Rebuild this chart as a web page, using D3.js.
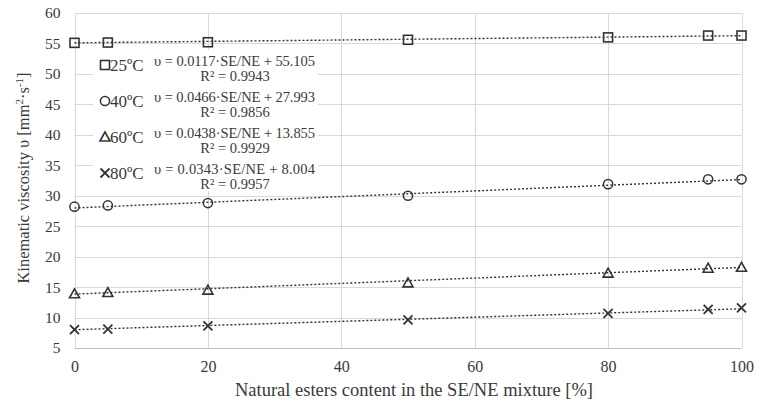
<!DOCTYPE html>
<html><head><meta charset="utf-8">
<script src="https://cdn.jsdelivr.net/npm/d3@7"></script>
<style>
html,body{margin:0;padding:0;background:#fff;}
svg text{font-family:"Liberation Serif","Times New Roman",Tinos,"DejaVu Serif",serif !important;}
</style></head>
<body><svg id="c" width="768" height="405"></svg>
<script>
const xValues = [0, 5, 20, 50, 80, 95, 100];
const v25 = [55.1, 55.15, 55.2, 55.6, 56.0, 56.3, 56.3];
const v40 = [28.2, 28.4, 28.8, 30.0, 31.9, 32.7, 32.7];
const v60 = [13.9, 14.1, 14.5, 15.7, 17.3, 18.1, 18.25];
const v80 = [8.0, 8.1, 8.65, 9.6, 10.7, 11.35, 11.6];
const seriesNames = ["25ºC", "40ºC", "60ºC", "80ºC"];
const slopes = [0.0117, 0.0466, 0.0438, 0.0343];
const intercepts = [55.105, 27.993, 13.855, 8.004];
const equations = ["υ = 0.0117·SE/NE + 55.105", "υ = 0.0466·SE/NE + 27.993", "υ = 0.0438·SE/NE + 13.855", "υ = 0.0343·SE/NE + 8.004"];
const rSquared = ["R² = 0.9943", "R² = 0.9856", "R² = 0.9929", "R² = 0.9957"];
const symbols = ["square", "circle", "triangle", "cross"];
const xTicks = [0, 20, 40, 60, 80, 100];
const yTicks = [5,10,15,20,25,30,35,40,45,50,55,60];

const allValues = [v25, v40, v60, v80];
const svg = d3.select("#c");
const x = d3.scaleLinear().domain([0, 100]).range([74.5, 741.5]);
const y = d3.scaleLinear().domain([5, 60]).range([348, 13]);
const ink = "#333";
const textCol = "#3a3a3a";
const gridCol = "#d9d9d9";
const serif = '"Liberation Serif","Times New Roman",Tinos,"DejaVu Serif",serif';

// gridlines
const g = svg.append("g");
g.selectAll(".hg").data(yTicks).join("line")
  .attr("x1", x(0)).attr("x2", x(100))
  .attr("y1", d => Math.round(y(d)) + 0.5).attr("y2", d => Math.round(y(d)) + 0.5)
  .attr("stroke", d => d === 5 ? "#bfbfbf" : gridCol).attr("stroke-width", 1);
g.selectAll(".vg").data(xTicks).join("line")
  .attr("y1", y(5)).attr("y2", y(60))
  .attr("x1", d => Math.round(x(d)) + 0.5).attr("x2", d => Math.round(x(d)) + 0.5)
  .attr("stroke", gridCol).attr("stroke-width", 1);

// axes tick labels via d3 axes
const yAxis = svg.append("g").attr("transform", `translate(${x(0)},0)`)
  .call(d3.axisLeft(y).tickValues(yTicks).tickSize(0).tickPadding(14));
const xAxis = svg.append("g").attr("transform", `translate(0,${y(5)})`)
  .call(d3.axisBottom(x).tickValues(xTicks).tickSize(0).tickPadding(13));
yAxis.attr("font-size", 15.5);
xAxis.attr("font-size", 16);
[yAxis, xAxis].forEach(a => {
  a.attr("font-family", serif);
  a.select(".domain").remove();
  a.selectAll("text").attr("fill", textCol);
});

// axis titles
svg.append("text").attr("x", 414).attr("y", 396).attr("text-anchor", "middle")
  .attr("fill", textCol).style("font-size", "18.5px")
  .text("Natural esters content in the SE/NE mixture [%]");
const yt = svg.append("text").attr("transform", "translate(29,178) rotate(-90)")
  .attr("text-anchor", "middle").attr("fill", textCol).style("font-size", "16.5px");
yt.append("tspan").text("Kinematic viscosity  υ [mm");
yt.append("tspan").attr("dy", -6).style("font-size", "11px").text("2");
yt.append("tspan").attr("dy", 6).text("·s");
yt.append("tspan").attr("dy", -6).style("font-size", "11px").text("-1");
yt.append("tspan").attr("dy", 6).text("]");

// symbol drawing
function drawSymbol(sel, type, cx, cy) {
  if (type === "square") {
    sel.append("rect").attr("x", cx - 4.5).attr("y", cy - 4.5).attr("width", 9).attr("height", 9)
      .attr("fill", "none").attr("stroke", ink).attr("stroke-width", 1.6);
  } else if (type === "circle") {
    sel.append("circle").attr("cx", cx).attr("cy", cy).attr("r", 4.6)
      .attr("fill", "none").attr("stroke", ink).attr("stroke-width", 1.5);
  } else if (type === "triangle") {
    sel.append("path").attr("d", `M${cx},${cy - 5}L${cx + 5},${cy + 4}L${cx - 5},${cy + 4}Z`)
      .attr("fill", "none").attr("stroke", ink).attr("stroke-width", 1.6).attr("stroke-linejoin", "miter");
  } else {
    sel.append("path").attr("d", `M${cx - 4.5},${cy - 4.5}L${cx + 4.5},${cy + 4.5}M${cx - 4.5},${cy + 4.5}L${cx + 4.5},${cy - 4.5}`)
      .attr("fill", "none").attr("stroke", ink).attr("stroke-width", 1.8);
  }
}

// trendlines
const tl = svg.append("g");
slopes.forEach((s, i) => {
  tl.append("line")
    .attr("x1", x(0)).attr("y1", y(intercepts[i]))
    .attr("x2", x(100)).attr("y2", y(intercepts[i] + s * 100))
    .attr("stroke", ink).attr("stroke-width", 1.4).attr("stroke-dasharray", "2,2");
});

// markers
const mk = svg.append("g");
allValues.forEach((vals, i) => {
  vals.forEach((v, j) => drawSymbol(mk, symbols[i], x(xValues[j]), y(v)));
});

// legend box
const lg = svg.append("g");
lg.append("rect").attr("x", 93).attr("y", 50).attr("width", 225).attr("height", 141).attr("fill", "#fff");
seriesNames.forEach((n, i) => {
  const cy = 65 + 36 * i;
  drawSymbol(lg, symbols[i], 105, cy);
  lg.append("text").attr("x", 110).attr("y", cy + 6).attr("fill", textCol)
    .style("font-size", "17px").text(n);
  lg.append("text").attr("x", 154).attr("y", cy + 0.5).attr("fill", textCol)
    .style("font-size", "14.5px").attr("textLength", 161).text(equations[i]);
  lg.append("text").attr("x", 235).attr("y", cy + 16).attr("text-anchor", "middle").attr("fill", textCol)
    .style("font-size", "14.5px").text(rSquared[i]);
});
</script></body></html>
